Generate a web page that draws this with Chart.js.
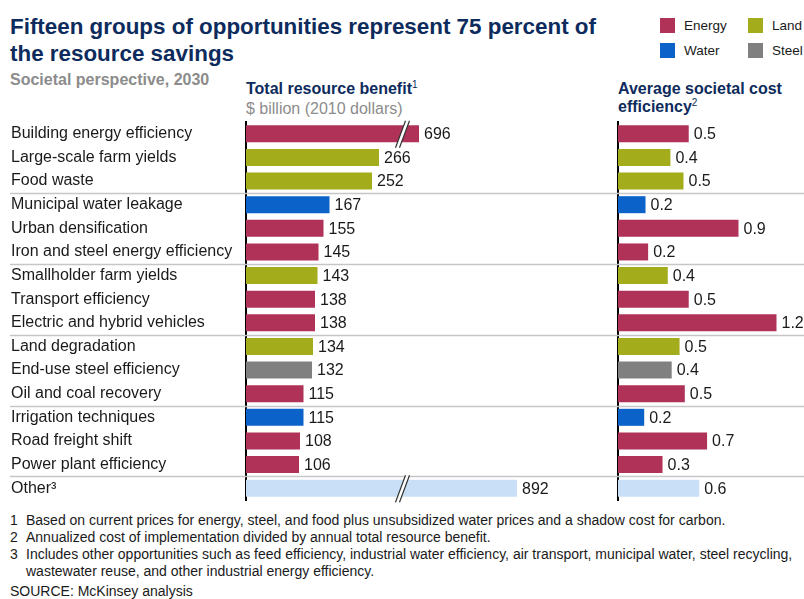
<!DOCTYPE html>
<html>
<head>
<meta charset="utf-8">
<script src="https://cdn.jsdelivr.net/npm/chart.js@4.4.1/dist/chart.umd.min.js"></script>
<style>
  html, body { margin: 0; padding: 0; background: #fff; }
  body { width: 804px; height: 599px; position: relative; overflow: hidden;
         font-family: "Liberation Sans", Arial, Helvetica, sans-serif; color: #1a1a1a; }
  .abs { position: absolute; white-space: nowrap; }
  #title { left: 10px; top: 13px; font-size: 22.4px; line-height: 27px; font-weight: bold; color: #0d2b5c; }
  #subtitle { left: 10px; top: 71px; font-size: 16px; line-height: 18px; font-weight: bold; color: #8c8c8c; }
  .head { top: 80px; font-size: 16px; line-height: 18px; font-weight: bold; color: #0d2b5c; }
  .head .unit { font-weight: normal; color: #8c8c8c; }
  sup { font-size: 10px; font-weight: normal; vertical-align: 0; position: relative; top: -6px; }
  .leg { font-size: 13.5px; line-height: 15px; }
  .leg span { display: inline-block; width: 15px; height: 15px; vertical-align: top; margin-right: 9px; }
  #notes { left: 10px; top: 512px; font-size: 14px; line-height: 17px; }
  #notes .n { padding-left: 16px; text-indent: -16px; }
  #notes .n b { display: inline-block; width: 16px; text-indent: 0; font-weight: normal; }
  canvas { position: absolute; }
</style>
</head>
<body>
<div id="title" class="abs">Fifteen groups of opportunities represent 75 percent of<br>the resource savings</div>
<div id="subtitle" class="abs">Societal perspective, 2030</div>
<div class="abs head" style="left:246px">Total resource benefit<sup>1</sup><br><span class="unit">$ billion (2010 dollars)</span></div>
<div class="abs head" style="left:618px">Average societal cost<br>efficiency<sup>2</sup></div>
<div id="legend"></div>
<div id="notes" class="abs">
  <div class="n"><b>1</b>Based on current prices for energy, steel, and food plus unsubsidized water prices and a shadow cost for carbon.</div>
  <div class="n"><b>2</b>Annualized cost of implementation divided by annual total resource benefit.</div>
  <div class="n"><b>3</b>Includes other opportunities such as feed efficiency, industrial water efficiency, air transport, municipal water, steel recycling,<br>wastewater reuse, and other industrial energy efficiency.</div>
  <div style="margin-top:3px">SOURCE: McKinsey analysis</div>
</div>
<canvas id="benefitChart" style="left:0;top:110px" width="612" height="400"></canvas>
<canvas id="costChart" style="left:612px;top:110px" width="192" height="400"></canvas>

<script>
// Chart data
const categories = [
  "Building energy efficiency", "Large-scale farm yields", "Food waste",
  "Municipal water leakage", "Urban densification", "Iron and steel energy efficiency",
  "Smallholder farm yields", "Transport efficiency", "Electric and hybrid vehicles",
  "Land degradation", "End-use steel efficiency", "Oil and coal recovery",
  "Irrigation techniques", "Road freight shift", "Power plant efficiency", "Other\u00b3"
];
const resourceType = [
  "Energy", "Land", "Land", "Water", "Energy", "Energy", "Land", "Energy",
  "Energy", "Land", "Steel", "Energy", "Water", "Energy", "Energy", "Other"
];
const benefitValues = [696, 266, 252, 167, 155, 145, 143, 138, 138, 134, 132, 115, 115, 108, 106, 892];
const costValues = [0.54, 0.40, 0.50, 0.21, 0.92, 0.23, 0.38, 0.54, 1.21, 0.47, 0.41, 0.51, 0.20, 0.68, 0.34, 0.62];

// broken bars: which rows, and how long they are drawn (in $ billion on the axis)
const brokenRows = [0, 15];
const brokenShownAs = [346, 542];
const breakAt = 313;

// last row of each group (a separator goes below it)
const groupEnds = [2, 5, 8, 11, 14];
const legendNames = ["Energy", "Land", "Water", "Steel"];

const typeColors = {
  Energy: "#b03259",
  Land: "#a3ac1a",
  Water: "#0b63c9",
  Steel: "#808080",
  Other: "#c8dff7",
};

// legend
const legendEl = document.getElementById("legend");
legendNames.forEach(function (name, i) {
  const d = document.createElement("div");
  d.className = "abs leg";
  d.style.left = (i % 2 === 0 ? 660 : 748) + "px";
  d.style.top = (i < 2 ? 18 : 43) + "px";
  d.innerHTML = '<span style="background:' + typeColors[name] + '"></span>' + name;
  legendEl.appendChild(d);
});

const barColors = resourceType.map((t) => typeColors[t]);
const drawnBenefit = benefitValues.map(function (v, i) {
  const k = brokenRows.indexOf(i);
  return k >= 0 ? brokenShownAs[k] : v;
});

const FONT = "'Liberation Sans', Arial, Helvetica, sans-serif";

// separators between the groups of rows
function separatorPlugin(startX) {
  return {
    id: "separators",
    beforeDatasetsDraw(chart) {
      const ctx = chart.ctx;
      const y = chart.scales.y;
      ctx.save();
      ctx.strokeStyle = "#c6c6c6";
      ctx.lineWidth = 1.5;
      groupEnds.forEach(function (g) {
        const py = Math.round((y.getPixelForValue(g) + y.getPixelForValue(g + 1)) / 2) + 0.5;
        ctx.beginPath();
        ctx.moveTo(startX, py);
        ctx.lineTo(chart.width, py);
        ctx.stroke();
      });
      ctx.restore();
    },
  };
}

// value labels at the end of the bars
function valueLabelPlugin(labels) {
  return {
    id: "valueLabels",
    afterDatasetsDraw(chart) {
      const ctx = chart.ctx;
      const meta = chart.getDatasetMeta(0);
      ctx.save();
      ctx.font = "16px " + FONT;
      ctx.fillStyle = "#1a1a1a";
      ctx.textAlign = "left";
      ctx.textBaseline = "middle";
      meta.data.forEach(function (bar, i) {
        ctx.fillText(labels[i], bar.x + 5, bar.y + 1);
      });
      ctx.restore();
    },
  };
}

// the "//" marks on the broken bars
const breakPlugin = {
  id: "breakMarks",
  afterDatasetsDraw(chart) {
    const ctx = chart.ctx;
    const meta = chart.getDatasetMeta(0);
    const x = chart.scales.x.getPixelForValue(breakAt);
    ctx.save();
    brokenRows.forEach(function (row) {
      const bar = meta.data[row];
      const top = bar.y - 13, bottom = bar.y + 14;
      ctx.fillStyle = "#fff";
      ctx.beginPath();
      ctx.moveTo(x - 7, bottom);
      ctx.lineTo(x + 3, top);
      ctx.lineTo(x + 7, top);
      ctx.lineTo(x - 3, bottom);
      ctx.closePath();
      ctx.fill();
      ctx.strokeStyle = "#333";
      ctx.lineWidth = 1.2;
      ctx.beginPath();
      ctx.moveTo(x - 7, bottom);
      ctx.lineTo(x + 3, top);
      ctx.moveTo(x - 3, bottom);
      ctx.lineTo(x + 7, top);
      ctx.stroke();
    });
    ctx.restore();
  },
};

// Total resource benefit
new Chart(document.getElementById("benefitChart"), {
  type: "bar",
  data: {
    labels: categories,
    datasets: [
      {
        data: drawnBenefit,
        backgroundColor: barColors,
        borderWidth: 0,
        barPercentage: 0.72,
        categoryPercentage: 1,
      },
    ],
  },
  options: {
    indexAxis: "y",
    responsive: false,
    animation: false,
    events: [],
    layout: { padding: { top: 12, bottom: 10, left: 11, right: 0 } },
    scales: {
      x: { display: false, min: 0, max: 732 },
      y: {
        grid: { display: false },
        border: { display: true, color: "#000", width: 2 },
        ticks: {
          crossAlign: "far",
          padding: 0,
          color: "#1a1a1a",
          font: { family: FONT, size: 16 },
        },
        afterFit: function (scale) {
          scale.width = 235;
        },
      },
    },
    plugins: { legend: { display: false }, tooltip: { enabled: false } },
  },
  plugins: [separatorPlugin(10), breakPlugin, valueLabelPlugin(benefitValues.map(String))],
});

// Average societal cost efficiency
new Chart(document.getElementById("costChart"), {
  type: "bar",
  data: {
    labels: categories,
    datasets: [
      {
        data: costValues,
        backgroundColor: barColors,
        borderWidth: 0,
        barPercentage: 0.72,
        categoryPercentage: 1,
      },
    ],
  },
  options: {
    indexAxis: "y",
    responsive: false,
    animation: false,
    events: [],
    layout: { padding: { top: 12, bottom: 10, left: 0, right: 0 } },
    scales: {
      x: { display: false, min: 0, max: 1.42 },
      y: {
        grid: { display: false },
        border: { display: true, color: "#000", width: 2 },
        ticks: { display: false },
        afterFit: function (scale) {
          scale.width = 6;
        },
      },
    },
    plugins: { legend: { display: false }, tooltip: { enabled: false } },
  },
  plugins: [separatorPlugin(0), valueLabelPlugin(costValues.map((v) => v.toFixed(1)))],
});
</script>
</body>
</html>
